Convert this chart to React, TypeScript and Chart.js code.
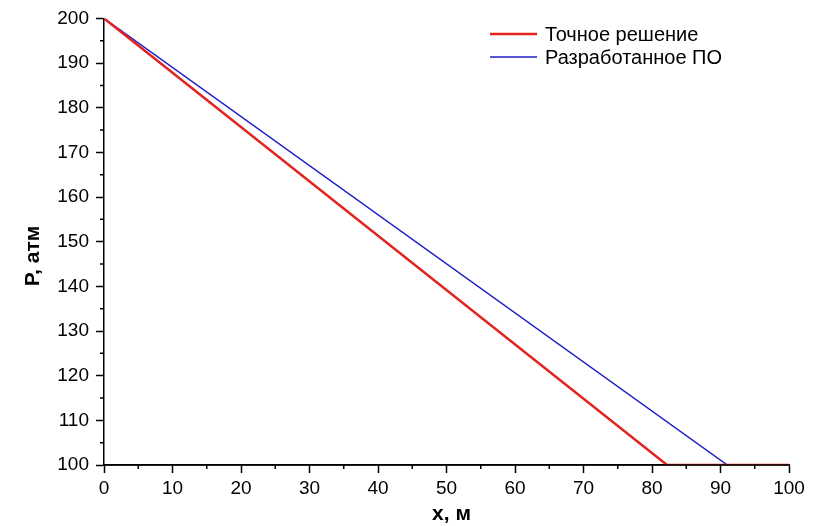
import React, { useEffect, useRef } from "react";
import { Chart, registerables } from "chart.js";

Chart.register(...registerables);

const exactX = [0, 82.2, 100];
const exactP = [200, 100, 100];
const softX = [0, 91, 100];
const softP = [200, 100, 100];
const seriesNames = ["Точное решение", "Разработанное ПО"];
const seriesColors = ["#e3231f", "#1c1cc8"];
const xTitle = "x, м";
const yTitle = "P, атм";

const FONT = "'Liberation Sans', Arial, sans-serif";

const minorTicks = {
  id: "minorTicks",
  afterDatasetsDraw(chart: any) {
    const ctx = chart.ctx;
    const xs = chart.scales.x;
    const ys = chart.scales.y;
    ctx.save();
    ctx.strokeStyle = "#000";
    ctx.lineWidth = 1.5;
    ctx.beginPath();
    // redraw bottom axis line on top of the series, as in the reference
    ctx.moveTo(xs.left, xs.top);
    ctx.lineTo(xs.right, xs.top);
    for (let v = 5; v < 100; v += 10) {
      const px = xs.getPixelForValue(v);
      ctx.moveTo(px, xs.top);
      ctx.lineTo(px, xs.top + 4);
    }
    for (let v = 105; v < 200; v += 10) {
      const py = ys.getPixelForValue(v);
      ctx.moveTo(ys.right, py);
      ctx.lineTo(ys.right - 4, py);
    }
    ctx.stroke();
    ctx.restore();
  },
};

const axisTitles = {
  id: "axisTitles",
  afterDraw(chart: any) {
    const ctx = chart.ctx;
    const xs = chart.scales.x;
    ctx.save();
    ctx.fillStyle = "#000";
    ctx.font = `bold 21px ${FONT}`;
    ctx.textAlign = "center";
    ctx.textBaseline = "alphabetic";
    ctx.fillText(xTitle, (xs.left + xs.right) / 2 + 5, 520);
    ctx.translate(39, 256);
    ctx.rotate(-Math.PI / 2);
    ctx.fillText(yTitle, 0, 0);
    ctx.restore();
  },
};

const customLegend = {
  id: "customLegend",
  afterDraw(chart: any) {
    const ctx = chart.ctx;
    ctx.save();
    ctx.font = `20px ${FONT}`;
    ctx.textBaseline = "middle";
    ctx.fillStyle = "#000";
    const widths = [2.5, 1.5];
    seriesNames.forEach((name, i) => {
      const y = 34 + i * 23;
      ctx.strokeStyle = seriesColors[i];
      ctx.lineWidth = widths[i];
      ctx.beginPath();
      ctx.moveTo(490, y);
      ctx.lineTo(537, y);
      ctx.stroke();
      ctx.fillText(name, 545, y + 1);
    });
    ctx.restore();
  },
};

export default function App() {
  const ref = useRef<HTMLCanvasElement>(null);
  useEffect(() => {
    if (!ref.current) return;
    const chart = new Chart(ref.current, {
      type: "line",
      data: {
        datasets: [
          {
            label: seriesNames[0],
            data: exactX.map((x, i) => ({ x, y: exactP[i] })),
            borderColor: seriesColors[0],
            borderWidth: 2.5,
            pointRadius: 0,
            tension: 0,
          },
          {
            label: seriesNames[1],
            data: softX.map((x, i) => ({ x, y: softP[i] })),
            borderColor: seriesColors[1],
            borderWidth: 1.5,
            pointRadius: 0,
            tension: 0,
          },
        ],
      },
      options: {
        animation: false,
        responsive: false,
        maintainAspectRatio: false,
        layout: { padding: { top: 18, right: 26, left: 0, bottom: 0 } },
        plugins: { legend: { display: false }, tooltip: { enabled: false } },
        scales: {
          x: {
            type: "linear",
            min: 0,
            max: 100,
            ticks: { stepSize: 10, color: "#000", font: { size: 19, family: FONT }, padding: 4, maxRotation: 0 },
            grid: { drawOnChartArea: false, drawTicks: true, tickLength: 8, tickColor: "#000", tickWidth: 1.5 },
            border: { display: true, color: "#000", width: 1.5 },
            afterFit: (s: any) => { s.height = 61; },
          },
          y: {
            type: "linear",
            min: 100,
            max: 200,
            ticks: { stepSize: 10, color: "#000", font: { size: 19, family: FONT }, padding: 7 },
            grid: { drawOnChartArea: false, drawTicks: true, tickLength: 8, tickColor: "#000", tickWidth: 1.5 },
            border: { display: true, color: "#000", width: 1.5 },
            afterFit: (s: any) => { s.width = 104; },
          },
        },
      },
      plugins: [minorTicks, axisTitles, customLegend],
    });
    return () => chart.destroy();
  }, []);
  return (
    <div style={{ position: "fixed", left: 0, top: 0, width: 815, height: 526, background: "#fff" }}>
      <canvas ref={ref} width={815} height={526} style={{ width: 815, height: 526 }} />
    </div>
  );
}
